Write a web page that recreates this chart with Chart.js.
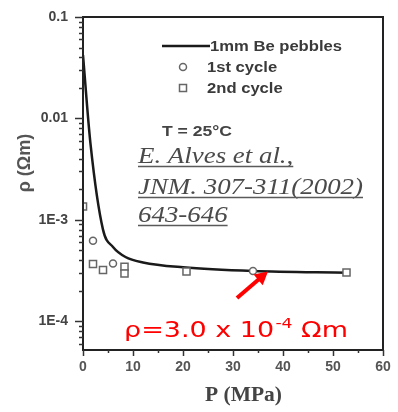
<!DOCTYPE html>
<html>
<head>
<meta charset="utf-8">
<script src="https://cdn.jsdelivr.net/npm/chart.js@4/dist/chart.umd.min.js"></script>
<style>
  html, body { margin: 0; padding: 0; background: #fff; }
</style>
</head>
<body>
<canvas id="chart" width="398" height="412"></canvas>
<script>
// values
const lineP = [0, 1.5, 4, 6, 8.5, 12, 20, 34, 53];
const lineRho = [0.042, 0.0056, 0.0008, 0.00054, 0.00043, 0.00038, 0.00034, 0.000312, 0.0003];
const cycle1P = [2, 6, 34];
const cycle1Rho = [0.00062, 0.00037, 0.000313];
const cycle2P = [0, 2, 4, 8.3, 8.3, 20.7, 52.7];
const cycle2Rho = [0.00135, 0.000366, 0.00032, 0.000345, 0.000296, 0.000309, 0.000302];

const xTickValues = [0, 5, 10, 15, 20, 25, 30, 35, 40, 45, 50, 55, 60];
const xTickLabels = ['0', '10', '20', '30', '40', '50', '60'];
const yTickValues = [0.1, 0.01, 0.001, 0.0001];
const yTickLabels = ['0.1', '0.01', '1E-3', '1E-4'];

const toPoints = (xs, ys) => xs.map((x, i) => ({ x: x, y: ys[i] }));

// minor log ticks 2..9 in every decade shown
const yAllTicks = [];
for (let e = -5; e <= -1; e++) {
    for (let s = 1; s <= 9; s++) {
        const v = s * Math.pow(10, e);
        if (v >= 5.2e-5 && v <= 0.1 + 1e-12) yAllTicks.push(v);
    }
}

const isMajorY = v => yTickValues.some(t => Math.abs(t - v) / t < 1e-6);

// the scanned figure is stretched sideways, so text is drawn squeezed to a target width
function wideText(ctx, text, x, y, width) {
    const w = ctx.measureText(text).width;
    const sx = width / w;
    ctx.save();
    ctx.translate(x, y);
    ctx.scale(sx, 1);
    ctx.fillText(text, 0, 0);
    ctx.restore();
    return sx;
}

const decorations = {
    id: 'decorations',
    afterDraw(chart) {
        const ctx = chart.ctx;
        const a = chart.chartArea;
        const xs = chart.scales.x;
        const ys = chart.scales.y;
        ctx.save();

        // frame
        ctx.strokeStyle = '#222';
        ctx.lineWidth = 2;
        ctx.strokeRect(a.left, a.top, a.right - a.left, a.bottom - a.top);

        // tick marks
        ctx.lineWidth = 1.5;
        ctx.strokeStyle = '#333';
        yAllTicks.forEach(v => {
            const py = Math.round(ys.getPixelForValue(v)) + 0.5;
            const len = isMajorY(v) ? 8 : 4;
            ctx.beginPath();
            ctx.moveTo(a.left - len, py);
            ctx.lineTo(a.left, py);
            ctx.stroke();
        });
        xTickValues.forEach(v => {
            const px = Math.round(xs.getPixelForValue(v)) + 0.5;
            const len = v % 10 === 0 ? 6 : 3;
            ctx.beginPath();
            ctx.moveTo(px, a.bottom);
            ctx.lineTo(px, a.bottom + len);
            ctx.stroke();
        });

        // axis titles
        ctx.save();
        ctx.translate(25, 163);
        ctx.rotate(-Math.PI / 2);
        ctx.fillStyle = '#555';
        ctx.font = 'bold 18px "Liberation Sans", Arial, sans-serif';
        ctx.textAlign = 'center';
        ctx.textBaseline = 'middle';
        ctx.fillText('ρ (Ωm)', 0, 0);
        ctx.restore();

        ctx.fillStyle = '#444';
        ctx.font = 'bold 20px "Liberation Serif", "Times New Roman", serif';
        ctx.textBaseline = 'alphabetic';
        wideText(ctx, 'P (MPa)', 205, 401, 77);

        // legend
        const ds = chart.data.datasets;
        ctx.font = 'bold 15px "Liberation Sans", Arial, sans-serif';
        ctx.fillStyle = '#3a3a3a';
        ctx.textAlign = 'left';
        ctx.textBaseline = 'middle';
        ctx.strokeStyle = '#1a1a1a';
        ctx.lineWidth = 2.5;
        ctx.beginPath();
        ctx.moveTo(162, 46);
        ctx.lineTo(210, 46);
        ctx.stroke();
        const sx = wideText(ctx, ds[2].label, 210, 47, 132);
        ctx.strokeStyle = '#666';
        ctx.lineWidth = 1.5;
        ctx.beginPath();
        ctx.arc(183, 67, 3.5, 0, Math.PI * 2);
        ctx.stroke();
        wideText(ctx, ds[0].label, 207, 68, ctx.measureText(ds[0].label).width * sx);
        ctx.strokeRect(179.5, 84.5, 7, 7);
        wideText(ctx, ds[1].label, 207, 89, ctx.measureText(ds[1].label).width * sx);

        // temperature note
        ctx.font = 'bold 14px "Liberation Sans", Arial, sans-serif';
        ctx.fillStyle = '#444';
        wideText(ctx, 'T = 25°C', 162, 132, 70);

        // citation
        ctx.font = 'italic 23px "Liberation Serif", "Times New Roman", serif';
        ctx.fillStyle = '#4a4a4a';
        ctx.strokeStyle = '#5a5a5a';
        ctx.lineWidth = 1.5;
        ctx.textBaseline = 'alphabetic';
        const cite = ['E. Alves et al.,', 'JNM. 307-311(2002)', '643-646'];
        const baseY = [163, 194, 222];
        const csx = 225 / ctx.measureText(cite[1]).width;
        cite.forEach((s, i) => {
            const w = ctx.measureText(s).width * csx;
            wideText(ctx, s, 138, baseY[i], w);
            ctx.beginPath();
            ctx.moveTo(138, baseY[i] + 3.5);
            ctx.lineTo(138 + w, baseY[i] + 3.5);
            ctx.stroke();
        });

        // red arrow
        const tx = xs.getPixelForValue(30.8), ty = ys.getPixelForValue(1.69e-4);
        const hx = xs.getPixelForValue(37), hy = ys.getPixelForValue(3.1e-4);
        const ang = Math.atan2(hy - ty, hx - tx);
        ctx.strokeStyle = '#ff0000';
        ctx.fillStyle = '#ff0000';
        ctx.lineWidth = 4;
        ctx.beginPath();
        ctx.moveTo(tx, ty);
        ctx.lineTo(hx - 9 * Math.cos(ang), hy - 9 * Math.sin(ang));
        ctx.stroke();
        ctx.beginPath();
        ctx.moveTo(hx, hy);
        ctx.lineTo(hx - 13 * Math.cos(ang) + 7 * Math.sin(ang), hy - 13 * Math.sin(ang) - 7 * Math.cos(ang));
        ctx.lineTo(hx - 13 * Math.cos(ang) - 7 * Math.sin(ang), hy - 13 * Math.sin(ang) + 7 * Math.cos(ang));
        ctx.closePath();
        ctx.fill();

        // red value label, base, superscript, unit
        const bigFont = '22px "DejaVu Sans", Verdana, sans-serif';
        const supFont = '14px "DejaVu Sans", Verdana, sans-serif';
        ctx.font = bigFont;
        const w1 = ctx.measureText('ρ=3.0 x 10').width;
        const w3 = ctx.measureText(' Ωm').width;
        ctx.font = supFont;
        const w2 = ctx.measureText('-4').width;
        const rsx = 224 / (w1 + w2 + w3 + 1);
        ctx.save();
        ctx.translate(124, 337);
        ctx.scale(rsx, 1);
        ctx.font = bigFont;
        ctx.fillText('ρ=3.0 x 10', 0, 0);
        ctx.font = supFont;
        ctx.fillText('-4', w1 + 1, -9);
        ctx.font = bigFont;
        ctx.fillText(' Ωm', w1 + 1 + w2, 0);
        ctx.restore();

        ctx.restore();
    }
};

const canvas = document.getElementById('chart');
new Chart(canvas.getContext('2d'), {
    type: 'scatter',
    data: {
        datasets: [
            {
                label: '1st cycle',
                data: toPoints(cycle1P, cycle1Rho),
                pointStyle: 'circle',
                pointRadius: 3.5,
                pointBorderWidth: 1.5,
                borderColor: '#666',
                backgroundColor: '#fff',
                order: 1
            },
            {
                label: '2nd cycle',
                data: toPoints(cycle2P, cycle2Rho),
                pointStyle: 'rect',
                pointRadius: 5,
                pointBorderWidth: 1.5,
                borderColor: '#666',
                backgroundColor: '#fff',
                order: 1
            },
            {
                label: '1mm Be pebbles',
                data: toPoints(lineP, lineRho),
                showLine: true,
                pointRadius: 0,
                borderColor: '#1a1a1a',
                borderWidth: 2.5,
                cubicInterpolationMode: 'monotone',
                order: 2
            }
        ]
    },
    options: {
        responsive: false,
        animation: false,
        devicePixelRatio: 1,
        layout: { padding: { top: 17, right: 15, left: 0, bottom: 0 } },
        plugins: {
            legend: { display: false },
            tooltip: { enabled: false }
        },
        scales: {
            x: {
                type: 'linear',
                min: 0,
                max: 60,
                afterBuildTicks: s => { s.ticks = xTickValues.map(v => ({ value: v })); },
                ticks: {
                    autoSkip: false,
                    maxRotation: 0,
                    padding: 9,
                    color: '#555',
                    font: { family: '"Liberation Sans", Arial, sans-serif', size: 14, weight: 'bold' },
                    callback: v => (v % 10 === 0 ? xTickLabels[v / 10] : '')
                },
                grid: { display: false, drawTicks: false },
                border: { display: false },
                afterFit: s => { s.height = 62; s.paddingLeft = 0; s.paddingRight = 0; }
            },
            y: {
                type: 'logarithmic',
                min: 5.2e-5,
                max: 0.1,
                afterBuildTicks: s => { s.ticks = yAllTicks.map(v => ({ value: v })); },
                ticks: {
                    autoSkip: false,
                    padding: 15,
                    color: '#444',
                    font: { family: '"Liberation Sans", Arial, sans-serif', size: 14, weight: 'bold' },
                    callback: v => {
                        const i = yTickValues.findIndex(t => Math.abs(t - v) / t < 1e-6);
                        return i >= 0 ? yTickLabels[i] : '';
                    }
                },
                grid: { display: false, drawTicks: false },
                border: { display: false },
                afterFit: s => { s.width = 83; s.paddingTop = 0; s.paddingBottom = 0; }
            }
        }
    },
    plugins: [decorations]
});
</script>
</body>
</html>
